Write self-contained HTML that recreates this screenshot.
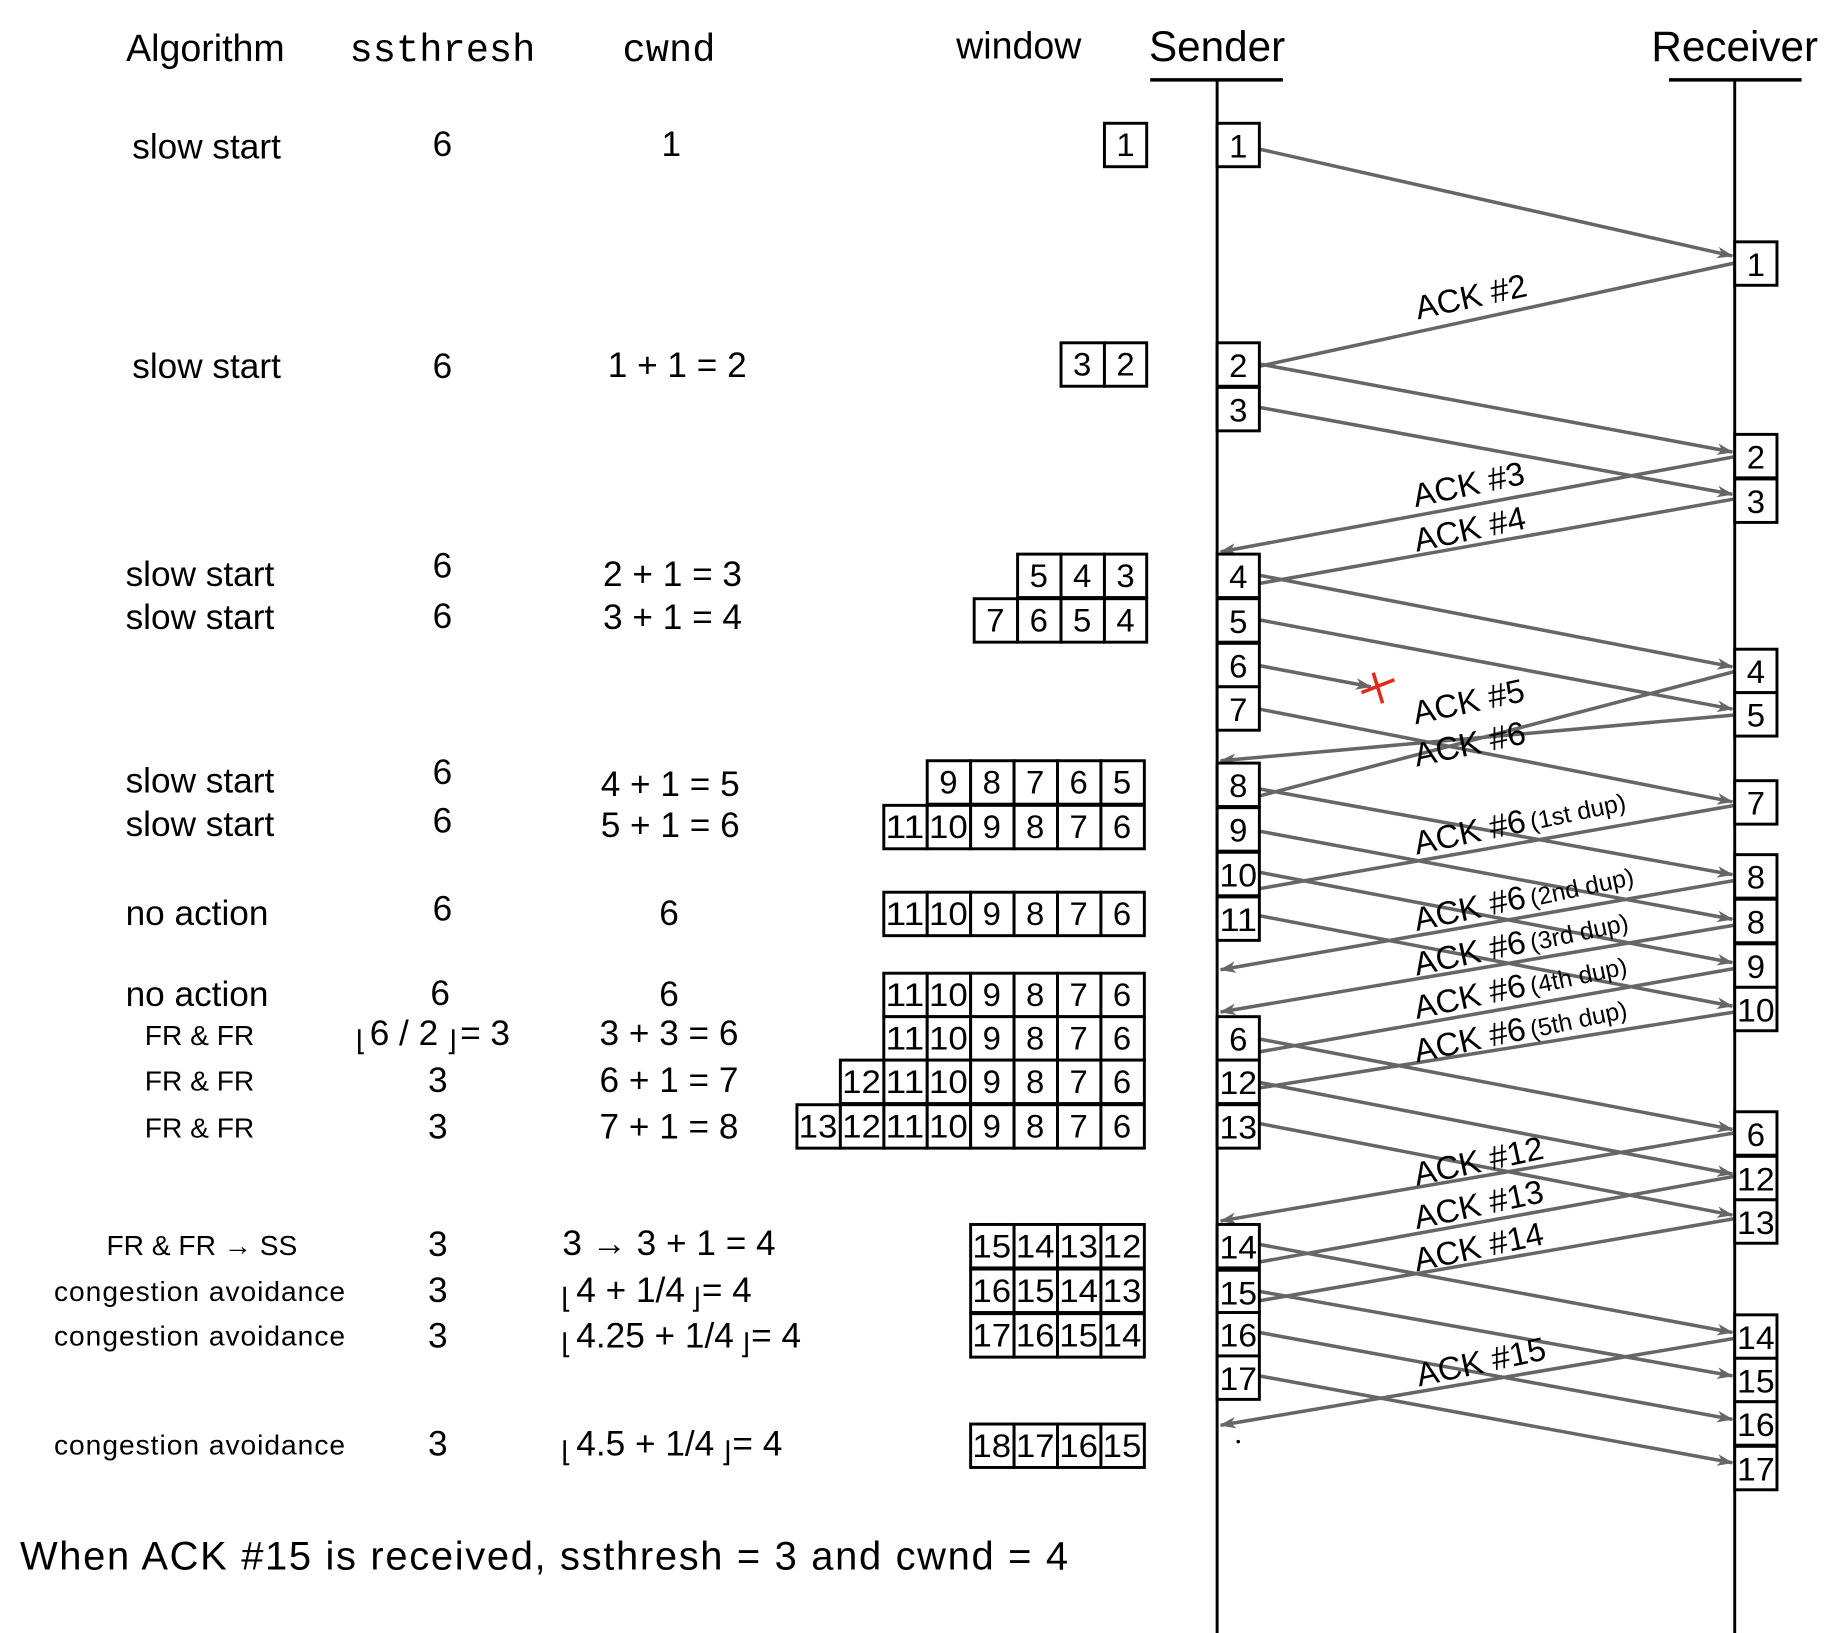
<!DOCTYPE html>
<html><head><meta charset="utf-8"><style>
html,body{margin:0;padding:0;background:#fff;}
svg{display:block;}
text{font-family:"Liberation Sans",sans-serif;fill:#000;}
.t{font-size:30px;}
.s{font-size:24px;}
.m{font-family:"Liberation Mono",monospace;font-size:33px;}
.n{font-size:28px;text-anchor:middle;}
.b rect{fill:#fff;stroke:#000;stroke-width:2.5;}
.a line{stroke:#666;stroke-width:3;}
.k{font-size:28px;fill:#111;}
.d{font-size:21px;}
</style></head><body>
<svg width="1838" height="1633" viewBox="0 0 1566 1391" preserveAspectRatio="none" xmlns="http://www.w3.org/2000/svg">
<defs>
<marker id="ah" viewBox="0 0 14 10" refX="13" refY="5" markerWidth="14" markerHeight="10" markerUnits="userSpaceOnUse" orient="auto">
<path d="M0,0 L14,5 L0,10 L4,5 z" fill="#666"/>
</marker>
<g id="r6" class="b">
<rect x="753" y="0" width="37" height="37"/><rect x="790" y="0" width="37" height="37"/><rect x="827" y="0" width="37" height="37"/><rect x="864" y="0" width="37" height="37"/><rect x="901" y="0" width="37" height="37"/><rect x="938" y="0" width="37" height="37"/>
</g>
<g id="r4" class="b"><rect x="827" y="0" width="37" height="37"/><rect x="864" y="0" width="37" height="37"/><rect x="901" y="0" width="37" height="37"/><rect x="938" y="0" width="37" height="37"/></g>
</defs>

<!-- headers -->
<text class="t" x="175" y="52" text-anchor="middle" style="font-size:32px">Algorithm</text>
<text class="m" x="377" y="52" text-anchor="middle">ssthresh</text>
<text class="m" x="570" y="52" text-anchor="middle">cwnd</text>
<text class="t" x="868" y="50" text-anchor="middle" style="font-size:32px">window</text>
<text x="1037" y="52" text-anchor="middle" style="font-size:36px">Sender</text>
<text x="1478" y="52" text-anchor="middle" style="font-size:36px">Receiver</text>
<line x1="980" y1="68" x2="1093" y2="68" stroke="#000" stroke-width="3"/>
<line x1="1422" y1="68" x2="1535" y2="68" stroke="#000" stroke-width="3"/>
<line x1="1037" y1="68" x2="1037" y2="1391" stroke="#000" stroke-width="2.5"/>
<line x1="1478" y1="68" x2="1478" y2="1391" stroke="#000" stroke-width="2.5"/>

<!-- left columns -->
<g class="t">
<text x="176" y="135" text-anchor="middle">slow start</text><text x="377" y="133" text-anchor="middle">6</text><text x="572" y="133" text-anchor="middle">1</text>
<text x="176" y="322" text-anchor="middle">slow start</text><text x="377" y="322" text-anchor="middle">6</text><text x="577" y="321" text-anchor="middle">1 + 1 = 2</text>
<text x="107" y="499">slow start</text><text x="377" y="492" text-anchor="middle">6</text><text x="573" y="499" text-anchor="middle">2 + 1 = 3</text>
<text x="107" y="536">slow start</text><text x="377" y="535" text-anchor="middle">6</text><text x="573" y="536" text-anchor="middle">3 + 1 = 4</text>
<text x="107" y="675">slow start</text><text x="377" y="668" text-anchor="middle">6</text><text x="571" y="678" text-anchor="middle">4 + 1 = 5</text>
<text x="107" y="712">slow start</text><text x="377" y="709" text-anchor="middle">6</text><text x="571" y="713" text-anchor="middle">5 + 1 = 6</text>
<text x="107" y="788">no action</text><text x="377" y="784" text-anchor="middle">6</text><text x="570" y="788" text-anchor="middle">6</text>
<text x="107" y="857">no action</text><text x="375" y="856" text-anchor="middle">6</text><text x="570" y="857" text-anchor="middle">6</text>
<text x="315" y="890">6 / 2</text><text x="392" y="890">= 3</text><text x="570" y="890" text-anchor="middle">3 + 3 = 6</text>
<text x="373" y="930" text-anchor="middle">3</text><text x="570" y="930" text-anchor="middle">6 + 1 = 7</text>
<text x="373" y="970" text-anchor="middle">3</text><text x="570" y="970" text-anchor="middle">7 + 1 = 8</text>
<text x="373" y="1070" text-anchor="middle">3</text><text x="570" y="1069" text-anchor="middle">3 → 3 + 1 = 4</text>
<text x="373" y="1109" text-anchor="middle">3</text><text x="491" y="1109">4 + 1/4</text><text x="598" y="1109">= 4</text>
<text x="373" y="1148" text-anchor="middle">3</text><text x="491" y="1148">4.25 + 1/4</text><text x="640" y="1148">= 4</text>
<text x="373" y="1240" text-anchor="middle">3</text><text x="491" y="1240">4.5 + 1/4</text><text x="624" y="1240">= 4</text>
</g>
<g class="s">
<text x="303" y="895">⌊</text><text x="380" y="895">⌋</text>
<text x="478" y="1114">⌊</text><text x="588" y="1114">⌋</text>
<text x="478" y="1153">⌊</text><text x="630" y="1153">⌋</text>
<text x="478" y="1245">⌊</text><text x="614" y="1245">⌋</text>
<text x="170" y="890" text-anchor="middle">FR &amp; FR</text>
<text x="170" y="929" text-anchor="middle">FR &amp; FR</text>
<text x="170" y="969" text-anchor="middle">FR &amp; FR</text>
<text x="172" y="1069" text-anchor="middle">FR &amp; FR → SS</text>
<text x="170" y="1108" text-anchor="middle" textLength="248">congestion avoidance</text>
<text x="170" y="1146" text-anchor="middle" textLength="248">congestion avoidance</text>
<text x="170" y="1239" text-anchor="middle" textLength="248">congestion avoidance</text>
</g>
<text x="17" y="1337" style="font-size:34px" textLength="893">When ACK #15 is received, ssthresh = 3 and cwnd = 4</text>

<!-- window boxes -->
<g class="b">
<rect x="941" y="105" width="36" height="37"/>
<rect x="904" y="292" width="37" height="37"/><rect x="941" y="292" width="36" height="37"/>
<rect x="867" y="472" width="37" height="37"/><rect x="904" y="472" width="37" height="37"/><rect x="941" y="472" width="36" height="37"/>
<rect x="830" y="510" width="37" height="37"/><rect x="867" y="510" width="37" height="37"/><rect x="904" y="510" width="37" height="37"/><rect x="941" y="510" width="36" height="37"/>
<rect x="790" y="648" width="37" height="37"/><rect x="827" y="648" width="37" height="37"/><rect x="864" y="648" width="37" height="37"/><rect x="901" y="648" width="37" height="37"/><rect x="938" y="648" width="37" height="37"/>
</g>
<g class="n">
<text x="959" y="133">1</text>
<text x="922" y="320">3</text><text x="959" y="320">2</text>
<text x="885" y="500">5</text><text x="922" y="500">4</text><text x="959" y="500">3</text>
<text x="848" y="538">7</text><text x="885" y="538">6</text><text x="922" y="538">5</text><text x="959" y="538">4</text>
<text x="808" y="676">9</text><text x="845" y="676">8</text><text x="882" y="676">7</text><text x="919" y="676">6</text><text x="956" y="676">5</text>
</g>

<g transform="translate(0,686)"><use href="#r6"/><g class="n"><text x="771" y="28" textLength="33" lengthAdjust="spacingAndGlyphs">11</text><text x="808" y="28" textLength="33" lengthAdjust="spacingAndGlyphs">10</text><text x="845" y="28">9</text><text x="882" y="28">8</text><text x="919" y="28">7</text><text x="956" y="28">6</text></g></g>
<g transform="translate(0,760)"><use href="#r6"/><g class="n"><text x="771" y="28" textLength="33" lengthAdjust="spacingAndGlyphs">11</text><text x="808" y="28" textLength="33" lengthAdjust="spacingAndGlyphs">10</text><text x="845" y="28">9</text><text x="882" y="28">8</text><text x="919" y="28">7</text><text x="956" y="28">6</text></g></g>
<g transform="translate(0,829)"><use href="#r6"/><g class="n"><text x="771" y="28" textLength="33" lengthAdjust="spacingAndGlyphs">11</text><text x="808" y="28" textLength="33" lengthAdjust="spacingAndGlyphs">10</text><text x="845" y="28">9</text><text x="882" y="28">8</text><text x="919" y="28">7</text><text x="956" y="28">6</text></g></g>
<g transform="translate(0,866)"><use href="#r6"/><g class="n"><text x="771" y="28" textLength="33" lengthAdjust="spacingAndGlyphs">11</text><text x="808" y="28" textLength="33" lengthAdjust="spacingAndGlyphs">10</text><text x="845" y="28">9</text><text x="882" y="28">8</text><text x="919" y="28">7</text><text x="956" y="28">6</text></g></g>
<g transform="translate(0,903)"><use href="#r6"/><g class="b"><rect x="716" y="0" width="37" height="37"/></g><g class="n"><text x="734" y="28" textLength="33" lengthAdjust="spacingAndGlyphs">12</text><text x="771" y="28" textLength="33" lengthAdjust="spacingAndGlyphs">11</text><text x="808" y="28" textLength="33" lengthAdjust="spacingAndGlyphs">10</text><text x="845" y="28">9</text><text x="882" y="28">8</text><text x="919" y="28">7</text><text x="956" y="28">6</text></g></g>
<g transform="translate(0,941)"><use href="#r6"/><g class="b"><rect x="679" y="0" width="37" height="37"/><rect x="716" y="0" width="37" height="37"/></g><g class="n"><text x="697" y="28" textLength="33" lengthAdjust="spacingAndGlyphs">13</text><text x="734" y="28" textLength="33" lengthAdjust="spacingAndGlyphs">12</text><text x="771" y="28" textLength="33" lengthAdjust="spacingAndGlyphs">11</text><text x="808" y="28" textLength="33" lengthAdjust="spacingAndGlyphs">10</text><text x="845" y="28">9</text><text x="882" y="28">8</text><text x="919" y="28">7</text><text x="956" y="28">6</text></g></g>

<g transform="translate(0,1043)"><use href="#r4"/><g class="n"><text x="845" y="28" textLength="33" lengthAdjust="spacingAndGlyphs">15</text><text x="882" y="28" textLength="33" lengthAdjust="spacingAndGlyphs">14</text><text x="919" y="28" textLength="33" lengthAdjust="spacingAndGlyphs">13</text><text x="956" y="28" textLength="33" lengthAdjust="spacingAndGlyphs">12</text></g></g>
<g transform="translate(0,1081)"><use href="#r4"/><g class="n"><text x="845" y="28" textLength="33" lengthAdjust="spacingAndGlyphs">16</text><text x="882" y="28" textLength="33" lengthAdjust="spacingAndGlyphs">15</text><text x="919" y="28" textLength="33" lengthAdjust="spacingAndGlyphs">14</text><text x="956" y="28" textLength="33" lengthAdjust="spacingAndGlyphs">13</text></g></g>
<g transform="translate(0,1119)"><use href="#r4"/><g class="n"><text x="845" y="28" textLength="33" lengthAdjust="spacingAndGlyphs">17</text><text x="882" y="28" textLength="33" lengthAdjust="spacingAndGlyphs">16</text><text x="919" y="28" textLength="33" lengthAdjust="spacingAndGlyphs">15</text><text x="956" y="28" textLength="33" lengthAdjust="spacingAndGlyphs">14</text></g></g>
<g transform="translate(0,1213)"><use href="#r4"/><g class="n"><text x="845" y="28" textLength="33" lengthAdjust="spacingAndGlyphs">18</text><text x="882" y="28" textLength="33" lengthAdjust="spacingAndGlyphs">17</text><text x="919" y="28" textLength="33" lengthAdjust="spacingAndGlyphs">16</text><text x="956" y="28" textLength="33" lengthAdjust="spacingAndGlyphs">15</text></g></g>

<!-- arrows -->
<g class="a">
<line x1="1073" y1="127" x2="1476" y2="218" marker-end="url(#ah)"/>
<line x1="1478" y1="224" x2="1073" y2="312"/>
<line x1="1073" y1="310" x2="1476" y2="385" marker-end="url(#ah)"/>
<line x1="1073" y1="347" x2="1476" y2="421" marker-end="url(#ah)"/>
<line x1="1478" y1="389" x2="1040" y2="470" marker-end="url(#ah)"/>
<line x1="1478" y1="425" x2="1073" y2="497"/>
<line x1="1073" y1="490" x2="1476" y2="568" marker-end="url(#ah)"/>
<line x1="1073" y1="528" x2="1476" y2="604" marker-end="url(#ah)"/>
<line x1="1073" y1="567" x2="1168" y2="585" marker-end="url(#ah)"/>
<line x1="1073" y1="604" x2="1476" y2="683" marker-end="url(#ah)"/>
<line x1="1478" y1="572" x2="1073" y2="678"/>
<line x1="1478" y1="609" x2="1040" y2="648" marker-end="url(#ah)"/>
<line x1="1073" y1="672" x2="1476" y2="745" marker-end="url(#ah)"/>
<line x1="1073" y1="708" x2="1476" y2="783" marker-end="url(#ah)"/>
<line x1="1073" y1="743" x2="1476" y2="820" marker-end="url(#ah)"/>
<line x1="1073" y1="780" x2="1476" y2="857" marker-end="url(#ah)"/>
<line x1="1478" y1="686" x2="1073" y2="757"/>
<line x1="1478" y1="750" x2="1040" y2="826" marker-end="url(#ah)"/>
<line x1="1478" y1="788" x2="1040" y2="862" marker-end="url(#ah)"/>
<line x1="1478" y1="825" x2="1073" y2="896"/>
<line x1="1478" y1="862" x2="1040" y2="932" marker-end="url(#ah)"/>
<line x1="1073" y1="885" x2="1476" y2="962" marker-end="url(#ah)"/>
<line x1="1073" y1="922" x2="1476" y2="1000" marker-end="url(#ah)"/>
<line x1="1073" y1="957" x2="1476" y2="1035" marker-end="url(#ah)"/>
<line x1="1478" y1="965" x2="1040" y2="1040" marker-end="url(#ah)"/>
<line x1="1478" y1="1002" x2="1073" y2="1075"/>
<line x1="1478" y1="1038" x2="1073" y2="1108"/>
<line x1="1073" y1="1060" x2="1476" y2="1135" marker-end="url(#ah)"/>
<line x1="1073" y1="1100" x2="1476" y2="1172" marker-end="url(#ah)"/>
<line x1="1073" y1="1135" x2="1476" y2="1209" marker-end="url(#ah)"/>
<line x1="1073" y1="1172" x2="1476" y2="1246" marker-end="url(#ah)"/>
<line x1="1478" y1="1140" x2="1040" y2="1214" marker-end="url(#ah)"/>
</g>
<line x1="1160" y1="590" x2="1188" y2="579" stroke="#e8261a" stroke-width="3"/>
<line x1="1170" y1="573" x2="1178" y2="599" stroke="#e8261a" stroke-width="3"/>
<circle cx="1055" cy="1228" r="1.5" fill="#000"/>

<!-- ACK labels -->
<g class="k">
<text transform="translate(1208,272) rotate(-12)">ACK #2</text>
<text transform="translate(1206,432) rotate(-12)">ACK #3</text>
<text transform="translate(1207,470) rotate(-12)">ACK #4</text>
<text transform="translate(1206,617) rotate(-12)">ACK #5</text>
<text transform="translate(1207,653) rotate(-12)">ACK #6</text>
<text transform="translate(1207,728) rotate(-12)">ACK #6<tspan class="d" dx="4">(1st dup)</tspan></text>
<text transform="translate(1207,793) rotate(-12)">ACK #6<tspan class="d" dx="4">(2nd dup)</tspan></text>
<text transform="translate(1207,831) rotate(-12)">ACK #6<tspan class="d" dx="4">(3rd dup)</tspan></text>
<text transform="translate(1207,868) rotate(-12)">ACK #6<tspan class="d" dx="4">(4th dup)</tspan></text>
<text transform="translate(1207,905) rotate(-12)">ACK #6<tspan class="d" dx="4">(5th dup)</tspan></text>
<text transform="translate(1207,1010) rotate(-12)">ACK #12</text>
<text transform="translate(1207,1047) rotate(-12)">ACK #13</text>
<text transform="translate(1207,1083) rotate(-12)">ACK #14</text>
<text transform="translate(1209,1181) rotate(-12)">ACK #15</text>
</g>

<!-- sender boxes -->
<g class="b">
<rect x="1037" y="105" width="36" height="37"/>
<rect x="1037" y="292" width="36" height="37"/><rect x="1037" y="330" width="36" height="37"/>
<rect x="1037" y="472" width="36" height="37"/><rect x="1037" y="510" width="36" height="37"/><rect x="1037" y="548" width="36" height="37"/><rect x="1037" y="585" width="36" height="37"/>
<rect x="1037" y="650" width="36" height="37"/><rect x="1037" y="688" width="36" height="37"/><rect x="1037" y="726" width="36" height="37"/><rect x="1037" y="764" width="36" height="37"/>
<rect x="1037" y="866" width="36" height="37"/><rect x="1037" y="903" width="36" height="37"/><rect x="1037" y="941" width="36" height="37"/>
<rect x="1037" y="1043" width="36" height="37"/><rect x="1037" y="1082" width="36" height="37"/><rect x="1037" y="1118" width="36" height="37"/><rect x="1037" y="1155" width="36" height="37"/>
</g>
<g class="n">
<text x="1055" y="134">1</text><text x="1055" y="321">2</text><text x="1055" y="359">3</text>
<text x="1055" y="501">4</text><text x="1055" y="539">5</text><text x="1055" y="577">6</text><text x="1055" y="614">7</text>
<text x="1055" y="679">8</text><text x="1055" y="717">9</text>
<text x="1055" y="755" textLength="32" lengthAdjust="spacingAndGlyphs">10</text><text x="1055" y="793" textLength="32" lengthAdjust="spacingAndGlyphs">11</text>
<text x="1055" y="895">6</text><text x="1055" y="932" textLength="32" lengthAdjust="spacingAndGlyphs">12</text><text x="1055" y="970" textLength="32" lengthAdjust="spacingAndGlyphs">13</text>
<text x="1055" y="1072" textLength="32" lengthAdjust="spacingAndGlyphs">14</text><text x="1055" y="1111" textLength="32" lengthAdjust="spacingAndGlyphs">15</text><text x="1055" y="1147" textLength="32" lengthAdjust="spacingAndGlyphs">16</text><text x="1055" y="1184" textLength="32" lengthAdjust="spacingAndGlyphs">17</text>
</g>

<!-- receiver boxes -->
<g class="b">
<rect x="1478" y="206" width="36" height="37"/>
<rect x="1478" y="370" width="36" height="37"/><rect x="1478" y="408" width="36" height="37"/>
<rect x="1478" y="553" width="36" height="37"/><rect x="1478" y="590" width="36" height="37"/>
<rect x="1478" y="665" width="36" height="37"/>
<rect x="1478" y="728" width="36" height="37"/><rect x="1478" y="766" width="36" height="37"/><rect x="1478" y="804" width="36" height="37"/><rect x="1478" y="841" width="36" height="37"/>
<rect x="1478" y="947" width="36" height="37"/><rect x="1478" y="985" width="36" height="37"/><rect x="1478" y="1022" width="36" height="37"/>
<rect x="1478" y="1120" width="36" height="37"/><rect x="1478" y="1157" width="36" height="37"/><rect x="1478" y="1194" width="36" height="37"/><rect x="1478" y="1232" width="36" height="37"/>
</g>
<g class="n">
<text x="1496" y="235">1</text><text x="1496" y="399">2</text><text x="1496" y="437">3</text>
<text x="1496" y="582">4</text><text x="1496" y="619">5</text><text x="1496" y="694">7</text>
<text x="1496" y="757">8</text><text x="1496" y="795">8</text><text x="1496" y="833">9</text><text x="1496" y="870" textLength="32" lengthAdjust="spacingAndGlyphs">10</text>
<text x="1496" y="976">6</text><text x="1496" y="1014" textLength="32" lengthAdjust="spacingAndGlyphs">12</text><text x="1496" y="1051" textLength="32" lengthAdjust="spacingAndGlyphs">13</text>
<text x="1496" y="1149" textLength="32" lengthAdjust="spacingAndGlyphs">14</text><text x="1496" y="1186" textLength="32" lengthAdjust="spacingAndGlyphs">15</text><text x="1496" y="1223" textLength="32" lengthAdjust="spacingAndGlyphs">16</text><text x="1496" y="1261" textLength="32" lengthAdjust="spacingAndGlyphs">17</text>
</g>
</svg>
</body></html>
